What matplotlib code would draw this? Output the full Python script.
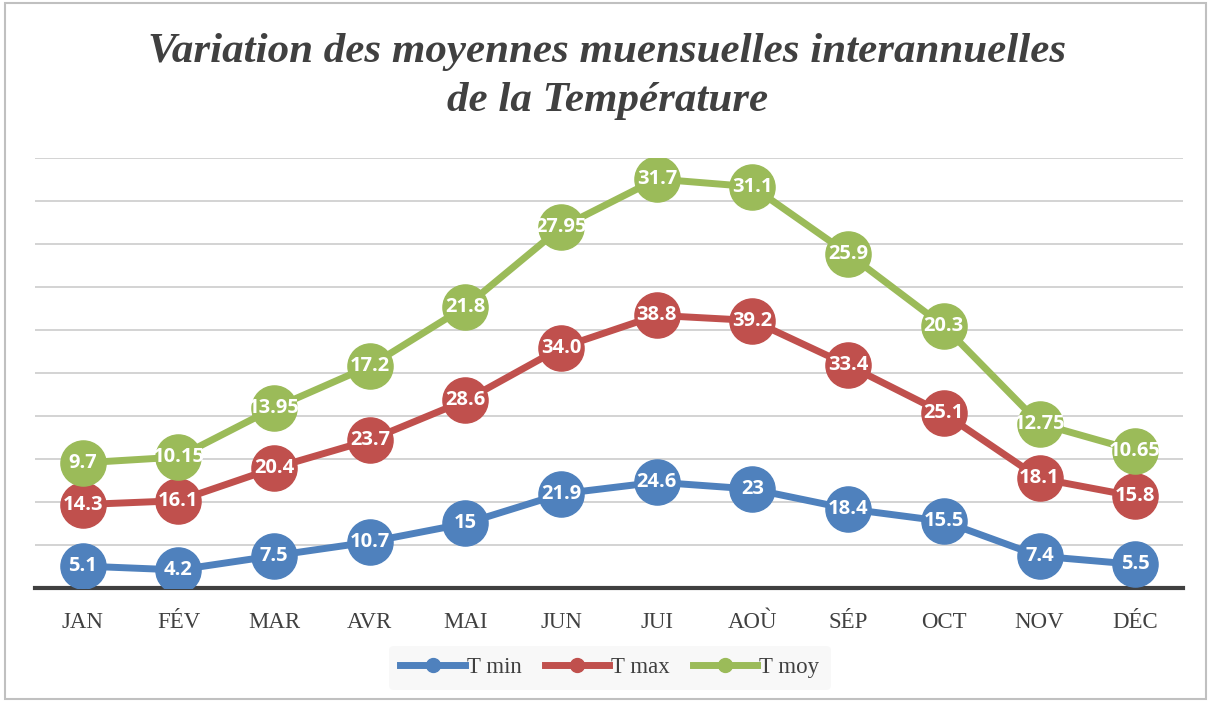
import matplotlib
matplotlib.use("Agg")
import matplotlib.pyplot as plt
from matplotlib.patches import Rectangle

# =========================================================
# DATA
# =========================================================

MONTHS = ["JAN", "FÉV", "MAR", "AVR", "MAI", "JUN",
          "JUI", "AOÙ", "SÉP", "OCT", "NOV", "DÉC"]

T_MIN = [5.1, 4.2, 7.5, 10.7, 15, 21.9, 24.6, 23, 18.4, 15.5, 7.4, 5.5]
T_MAX = [14.3, 16.1, 20.4, 23.7, 28.6, 34.0, 38.8, 39.2, 33.4, 25.1, 18.1, 15.8]
T_MOY = [9.7, 10.15, 13.95, 17.2, 21.8, 27.95, 31.7, 31.1, 25.9, 20.3, 12.75, 10.65]

SERIES_NAMES = ["T min", "T max", "T moy"]
COLORS = ["#4f81bd", "#c0504d", "#9bbb59"]

TITLE = "Variation des moyennes muensuelles interannuelles\nde la Température"

# =========================================================
# FIGURE
# =========================================================

fig = plt.figure(figsize=(12.1, 7.02), dpi=100)
ax = fig.add_axes([0.0289, 0.1624, 0.9488, 0.6126])

x = list(range(len(MONTHS)))

# stacked lines (cumulative)
base = [0.0] * len(MONTHS)
for k, (name, vals, col) in enumerate(zip(SERIES_NAMES, [T_MIN, T_MAX, T_MOY], COLORS)):
    cum = [b + v for b, v in zip(base, vals)]
    ax.plot(x, cum, color=col, lw=5, marker="o", markersize=32.5,
            solid_capstyle="round", label=name, zorder=3 + k)
    for xi, yi, v in zip(x, cum, vals):
        ax.text(xi, yi, str(v), ha="center", va="center", color="white",
                fontsize=14.5, fontweight="bold", family="Open Sans",
                zorder=10)
    base = cum

ax.set_xlim(-0.5, len(MONTHS) - 0.5)
ax.set_ylim(0, 100)
ax.set_yticks(range(10, 101, 10))
ax.yaxis.grid(True, color="#d0d0d0", lw=1.3, zorder=0)
ax.set_axisbelow(True)
ax.tick_params(axis="y", left=False, labelleft=False)
ax.axhline(0, color="#404040", lw=3, zorder=2, clip_on=False)

ax.set_xticks(x)
ax.set_xticklabels(MONTHS, family="Liberation Serif", fontsize=16.5, color="#404040")
ax.tick_params(axis="x", length=0, pad=17)

for s in ax.spines.values():
    s.set_visible(False)

# =========================================================
# TITLE, LEGEND, BORDER
# =========================================================

fig.text(0.502, 0.891, TITLE, ha="center", va="center",
         family="Liberation Serif", fontsize=31, fontweight="bold",
         style="italic", color="#404040", linespacing=1.4)

handles = [plt.Line2D([0], [0], color=c, lw=5, marker="o", markersize=10)
           for c in COLORS]
leg = fig.legend(handles, SERIES_NAMES, loc="center",
                 bbox_to_anchor=(0.504, 0.049), ncol=3, frameon=True,
                 prop={"family": "Liberation Serif", "size": 16.5},
                 handlelength=2.8, columnspacing=1.0, handletextpad=0.1,
                 borderpad=0.5)
leg.get_frame().set_facecolor("#f7f7f7")
leg.get_frame().set_edgecolor("none")
for t in leg.get_texts():
    t.set_color("#404040")

fig.patches.append(Rectangle((0.004, 0.004), 0.993, 0.992,
                             transform=fig.transFigure, fill=False,
                             edgecolor="#c0c0c0", lw=1.5))

fig.savefig("out.png", dpi=100)
